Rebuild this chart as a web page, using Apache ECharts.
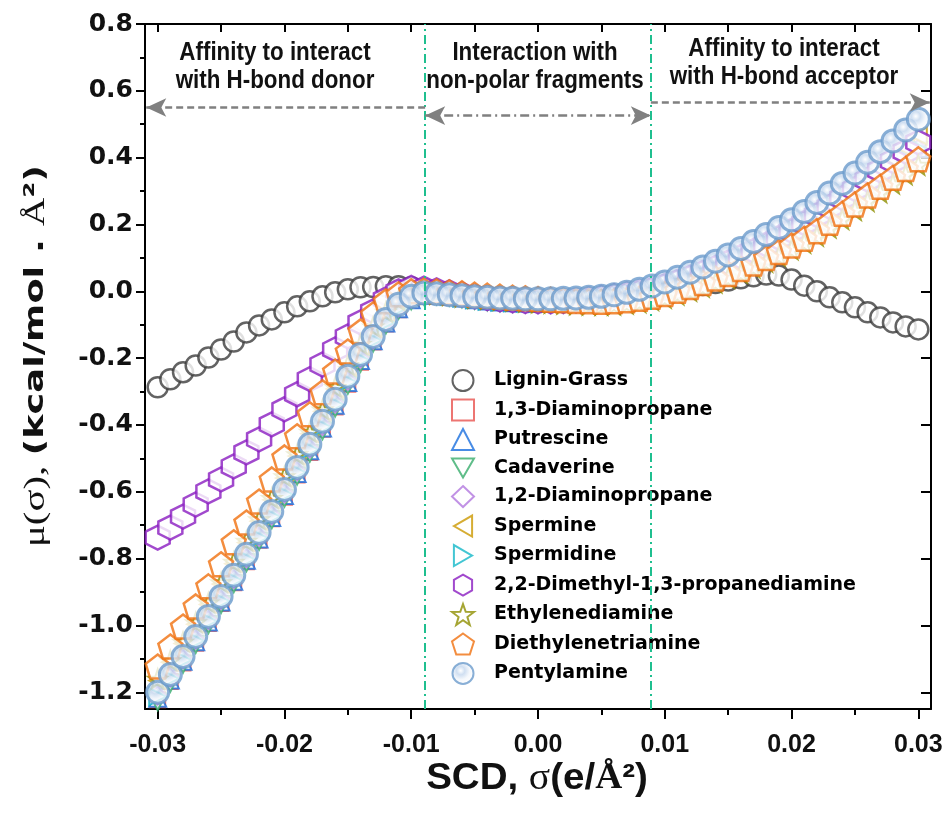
<!DOCTYPE html>
<html>
<head>
<meta charset="UTF-8">
<title>sigma potential</title>
<script src="https://cdn.jsdelivr.net/npm/echarts@6/dist/echarts.min.js"></script>
<style>
  html, body { margin: 0; padding: 0; background: #fff; }
  #main { width: 947px; height: 826px; }
</style>
</head>
<body>
<div id="main"></div>
<script>
// screening charge density, e/A^2
var sigma = [-0.030,-0.029,-0.028,-0.027,-0.026,-0.025,-0.024,-0.023,-0.022,-0.021,-0.020,
  -0.019,-0.018,-0.017,-0.016,-0.015,-0.014,-0.013,-0.012,-0.011,-0.010,
  -0.009,-0.008,-0.007,-0.006,-0.005,-0.004,-0.003,-0.002,-0.001,0.000,
  0.001,0.002,0.003,0.004,0.005,0.006,0.007,0.008,0.009,0.010,
  0.011,0.012,0.013,0.014,0.015,0.016,0.017,0.018,0.019,0.020,
  0.021,0.022,0.023,0.024,0.025,0.026,0.027,0.028,0.029,0.030];

// mu(sigma), kcal/mol.A^2
var ligninGrass = [-0.287,-0.263,-0.242,-0.222,-0.198,-0.174,-0.150,-0.123,-0.102,-0.084,-0.063,-0.045,-0.030,-0.015,-0.003,0.006,0.012,0.013,0.015,0.015,0.012,
  0.006,0.000,-0.006,-0.012,-0.017,-0.021,-0.024,-0.026,-0.027,-0.027,-0.026,-0.024,-0.022,-0.019,-0.016,-0.012,-0.008,-0.004,0.000,
  0.004,0.008,0.013,0.019,0.025,0.032,0.039,0.045,0.050,0.047,0.035,0.017,0.000,-0.018,-0.033,-0.048,-0.063,-0.078,-0.093,-0.105,-0.114];
var dap13 = [-1.222,-1.168,-1.112,-1.053,-0.994,-0.934,-0.872,-0.809,-0.745,-0.681,-0.616,-0.550,-0.482,-0.413,-0.346,-0.278,-0.212,-0.152,-0.098,-0.055,-0.027,
  -0.013,-0.012,-0.016,-0.021,-0.026,-0.030,-0.033,-0.035,-0.036,-0.037,-0.037,-0.036,-0.034,-0.031,-0.027,-0.022,-0.016,-0.009,-0.001,
  0.009,0.020,0.032,0.045,0.059,0.074,0.090,0.107,0.125,0.144,0.164,0.185,0.208,0.232,0.257,0.283,0.310,0.338,0.366,0.395,0.425];
var putrescine = [-1.218,-1.163,-1.107,-1.049,-0.990,-0.930,-0.868,-0.805,-0.741,-0.677,-0.611,-0.545,-0.477,-0.409,-0.341,-0.273,-0.207,-0.148,-0.095,-0.052,-0.025,
  -0.012,-0.011,-0.015,-0.020,-0.025,-0.029,-0.032,-0.034,-0.035,-0.036,-0.036,-0.035,-0.033,-0.030,-0.026,-0.021,-0.015,-0.008,0.000,
  0.010,0.021,0.033,0.046,0.060,0.075,0.091,0.108,0.126,0.145,0.165,0.187,0.210,0.234,0.259,0.285,0.312,0.340,0.369,0.398,0.428];
var cadaverine = [-1.228,-1.173,-1.116,-1.057,-0.998,-0.937,-0.875,-0.812,-0.748,-0.684,-0.619,-0.553,-0.485,-0.417,-0.349,-0.281,-0.215,-0.155,-0.101,-0.057,-0.028,
  -0.014,-0.013,-0.017,-0.022,-0.027,-0.031,-0.034,-0.036,-0.037,-0.038,-0.038,-0.037,-0.035,-0.032,-0.028,-0.023,-0.017,-0.010,-0.002,
  0.008,0.019,0.031,0.044,0.058,0.073,0.089,0.106,0.124,0.143,0.163,0.184,0.206,0.230,0.255,0.281,0.308,0.335,0.363,0.392,0.421];
var dap12 = [-1.210,-1.156,-1.101,-1.043,-0.984,-0.924,-0.862,-0.799,-0.735,-0.671,-0.605,-0.539,-0.471,-0.403,-0.336,-0.268,-0.202,-0.145,-0.092,-0.049,-0.022,
  -0.010,-0.010,-0.014,-0.019,-0.024,-0.028,-0.031,-0.033,-0.034,-0.035,-0.035,-0.034,-0.032,-0.029,-0.025,-0.020,-0.014,-0.007,0.001,
  0.011,0.022,0.034,0.047,0.061,0.076,0.092,0.109,0.127,0.146,0.166,0.188,0.211,0.235,0.260,0.286,0.313,0.341,0.370,0.398,0.426];
var spermine = [-1.165,-1.110,-1.054,-0.996,-0.937,-0.876,-0.815,-0.752,-0.688,-0.624,-0.559,-0.493,-0.426,-0.359,-0.292,-0.226,-0.163,-0.111,-0.066,-0.031,-0.012,
  -0.006,-0.008,-0.012,-0.017,-0.022,-0.026,-0.029,-0.031,-0.032,-0.033,-0.033,-0.032,-0.030,-0.027,-0.023,-0.018,-0.012,-0.005,0.003,
  0.013,0.024,0.036,0.050,0.065,0.081,0.098,0.116,0.135,0.155,0.176,0.199,0.223,0.248,0.274,0.302,0.331,0.361,0.394,0.428,0.465];
var spermidine = [-1.213,-1.159,-1.104,-1.046,-0.987,-0.927,-0.865,-0.802,-0.738,-0.674,-0.608,-0.542,-0.474,-0.406,-0.339,-0.271,-0.205,-0.147,-0.094,-0.051,-0.024,
  -0.011,-0.011,-0.015,-0.020,-0.025,-0.029,-0.032,-0.034,-0.035,-0.036,-0.036,-0.035,-0.033,-0.030,-0.026,-0.021,-0.015,-0.008,0.000,
  0.010,0.021,0.033,0.046,0.060,0.075,0.091,0.108,0.126,0.145,0.165,0.186,0.209,0.233,0.258,0.284,0.311,0.339,0.368,0.397,0.427];
var dimethylPropanediamine = [-0.737,-0.707,-0.674,-0.638,-0.599,-0.563,-0.524,-0.482,-0.443,-0.398,-0.353,-0.308,-0.263,-0.219,-0.174,-0.135,-0.093,-0.060,-0.024,0.000,0.010,
  0.008,0.003,-0.003,-0.009,-0.015,-0.020,-0.024,-0.027,-0.029,-0.030,-0.030,-0.029,-0.027,-0.024,-0.020,-0.015,-0.009,-0.002,0.006,
  0.016,0.028,0.041,0.055,0.070,0.086,0.103,0.121,0.140,0.160,0.181,0.204,0.228,0.253,0.279,0.306,0.334,0.362,0.390,0.418,0.446];
var ethylenediamine = [-1.160,-1.105,-1.049,-0.991,-0.932,-0.871,-0.810,-0.747,-0.683,-0.619,-0.554,-0.488,-0.421,-0.354,-0.287,-0.221,-0.158,-0.106,-0.062,-0.028,-0.010,
  -0.005,-0.008,-0.012,-0.016,-0.020,-0.023,-0.026,-0.028,-0.031,-0.033,-0.035,-0.037,-0.039,-0.040,-0.041,-0.040,-0.037,-0.033,-0.027,
  -0.020,-0.010,0.001,0.013,0.026,0.040,0.055,0.071,0.088,0.106,0.125,0.145,0.166,0.190,0.216,0.243,0.270,0.296,0.322,0.350,0.378];
var diethylenetriamine = [-1.123,-1.063,-1.003,-0.943,-0.883,-0.817,-0.751,-0.692,-0.629,-0.563,-0.497,-0.434,-0.368,-0.302,-0.240,-0.180,-0.120,-0.069,-0.030,-0.009,0.000,
  0.002,0.000,-0.003,-0.006,-0.010,-0.013,-0.016,-0.019,-0.021,-0.023,-0.025,-0.027,-0.029,-0.030,-0.031,-0.030,-0.027,-0.022,-0.016,
  -0.008,0.002,0.013,0.025,0.038,0.052,0.067,0.083,0.100,0.118,0.137,0.157,0.180,0.205,0.232,0.260,0.287,0.313,0.340,0.366,0.395];
var pentylamine = [-1.200,-1.147,-1.093,-1.033,-0.973,-0.913,-0.850,-0.787,-0.722,-0.659,-0.593,-0.527,-0.458,-0.389,-0.323,-0.254,-0.189,-0.135,-0.084,-0.039,-0.015,
  -0.005,-0.007,-0.010,-0.013,-0.016,-0.018,-0.020,-0.021,-0.022,-0.022,-0.022,-0.021,-0.020,-0.018,-0.015,-0.010,-0.003,0.006,0.016,
  0.028,0.042,0.057,0.073,0.090,0.109,0.128,0.149,0.170,0.191,0.214,0.239,0.266,0.294,0.323,0.354,0.386,0.418,0.450,0.483,0.515];

// axis ticks
var xMajor = [-0.03, -0.02, -0.01, 0.00, 0.01, 0.02, 0.03];
var xMinor = [-0.025, -0.015, -0.005, 0.005, 0.015, 0.025];
var yMajor = [-1.2, -1.0, -0.8, -0.6, -0.4, -0.2, 0.0, 0.2, 0.4, 0.6, 0.8];
var yMinor = [-1.1, -0.9, -0.7, -0.5, -0.3, -0.1, 0.1, 0.3, 0.5, 0.7];

// region borders and arrows
var regionBounds = [-0.0089, 0.0089];
var arrowY = { donor: 0.550, nonpolar: 0.526, acceptor: 0.565 };

var HEX = 'path://M0,-10 L8.66,-5 L8.66,5 L0,10 L-8.66,5 L-8.66,-5 Z';
var PENT = 'path://M0,-10 L9.51,-3.09 L5.88,8.09 L-5.88,8.09 L-9.51,-3.09 Z';
var STAR = 'path://M0,-10 L2.35,-3.24 L9.51,-3.09 L3.8,1.24 L5.88,8.09 L0,4 L-5.88,8.09 L-3.8,1.24 L-9.51,-3.09 L-2.35,-3.24 Z';
var TRI_DOWN = 'path://M-10,-8.66 L10,-8.66 L0,8.66 Z';
var TRI_LEFT = 'path://M-8.66,0 L8.66,-10 L8.66,10 Z';
var TRI_RIGHT = 'path://M8.66,0 L-8.66,-10 L-8.66,10 Z';

var sans = '"Liberation Sans", Arial, sans-serif';
var wide = '"DejaVu Sans", sans-serif';
var serif = '"Liberation Serif", serif';

function pairs(ys) {
  return sigma.map(function (x, i) { return [x, ys[i]]; });
}

function mk(name, ys, symbol, color, size, bw) {
  return {
    name: name,
    type: 'scatter',
    data: pairs(ys),
    symbol: symbol,
    symbolSize: size,
    itemStyle: { color: '#fff', borderColor: color, borderWidth: bw || 2 },
    emphasis: { disabled: true }
  };
}

var chart = echarts.init(document.getElementById('main'));

var series = [
  mk('Lignin-Grass', ligninGrass, 'circle', '#3c3c3c', 20, 2.5),
  mk('1,3-Diaminopropane', dap13, 'rect', '#e8534f', 15),
  mk('Putrescine', putrescine, 'triangle', '#1a6fdf', 17),
  mk('Cadaverine', cadaverine, TRI_DOWN, '#37ad6b', 17),
  mk('1,2-Diaminopropane', dap12, 'diamond', '#b177de', 18),
  mk('Spermine', spermine, TRI_LEFT, '#cc9900', 17),
  mk('Spermidine', spermidine, TRI_RIGHT, '#14b8c8', 17),
  mk('2,2-Dimethyl-1,3-propanediamine', dimethylPropanediamine, HEX, '#8a1cc0', 24, 2.5),
  mk('Ethylenediamine', ethylenediamine, STAR, '#8e8e00', 19),
  mk('Diethylenetriamine', diethylenetriamine, PENT, '#f0700f', 24, 2.5),
  mk('Pentylamine', pentylamine, 'circle', '#6b9bcc', 22, 3)
];
series[10].itemStyle.color = {
  type: 'radial', x: 0.4, y: 0.38, r: 0.6,
  colorStops: [
    { offset: 0, color: '#ffffff' },
    { offset: 0.3, color: '#c4d7ee' },
    { offset: 0.65, color: '#f2f6fb' },
    { offset: 1, color: '#ffffff' }
  ]
};

// guide lines + arrows
var greenDash = { color: '#1fbf8f', width: 2, type: [9, 4, 2, 4] };
var greyDash = { color: '#808080', width: 2.5, type: [7, 4] };
var greyDashDot = { color: '#808080', width: 2.5, type: [9, 4, 2, 4] };
series.push({
  name: 'guides',
  type: 'scatter',
  data: [],
  silent: true,
  markLine: {
    silent: true,
    animation: false,
    label: { show: false },
    data: [
      [{ coord: [regionBounds[0], -1.25], symbol: 'none', lineStyle: greenDash },
       { coord: [regionBounds[0], 0.8], symbol: 'none' }],
      [{ coord: [regionBounds[1], -1.25], symbol: 'none', lineStyle: greenDash },
       { coord: [regionBounds[1], 0.8], symbol: 'none' }],
      [{ coord: [regionBounds[0], arrowY.donor], symbol: 'none', lineStyle: greyDash },
       { coord: [-0.0309, arrowY.donor], symbol: 'arrow', symbolSize: [14, 20] }],
      [{ coord: [regionBounds[0], arrowY.nonpolar], symbol: 'arrow', symbolSize: [14, 20], lineStyle: greyDashDot },
       { coord: [regionBounds[1], arrowY.nonpolar], symbol: 'arrow', symbolSize: [14, 20] }],
      [{ coord: [regionBounds[1], arrowY.acceptor], symbol: 'none', lineStyle: greyDash },
       { coord: [0.0309, arrowY.acceptor], symbol: 'arrow', symbolSize: [14, 20] }]
    ]
  }
});

var tickStyle = { color: '#000', width: 2 };
var frame = { onZero: false, lineStyle: { color: '#000', width: 2 } };
var noLine = { show: false, onZero: false };

var option = {
  animation: false,
  backgroundColor: '#fff',
  grid: { left: 145, right: 16, top: 24, bottom: 117, containLabel: false, outerBoundsMode: 'none' },
  legend: {
    data: series.slice(0, 11).map(function (s) { return s.name; }),
    orient: 'vertical',
    left: 446,
    top: 364,
    itemWidth: 22,
    itemHeight: 21,
    itemGap: 6.5,
    selectedMode: false,
    textStyle: {
      fontFamily: wide, fontWeight: 'bold', fontSize: 19, color: '#000',
      padding: [0, 0, 0, 15]
    }
  },
  xAxis: [
    {
      type: 'value', position: 'bottom', min: -0.031, max: 0.031,
      axisLine: frame,
      axisTick: { inside: false, length: 10, lineStyle: tickStyle, customValues: xMajor },
      axisLabel: {
        customValues: xMajor, margin: 24, color: '#111',
        fontFamily: sans, fontWeight: 'bold', fontSize: 25,
        formatter: function (v) { return v.toFixed(2); }
      },
      splitLine: { show: false }
    },
    {
      type: 'value', position: 'bottom', min: -0.031, max: 0.031,
      axisLine: noLine,
      axisTick: { inside: false, length: 6, lineStyle: tickStyle, customValues: xMinor },
      axisLabel: { show: false }, splitLine: { show: false }
    },
    {
      type: 'value', position: 'top', min: -0.031, max: 0.031,
      axisLine: frame,
      axisTick: { inside: true, length: 8, lineStyle: tickStyle, customValues: xMajor.concat(xMinor) },
      axisLabel: { show: false }, splitLine: { show: false }
    }
  ],
  yAxis: [
    {
      type: 'value', position: 'left', min: -1.25, max: 0.8,
      axisLine: frame,
      axisTick: { inside: false, length: 9, lineStyle: tickStyle, customValues: yMajor },
      axisLabel: {
        customValues: yMajor, margin: 12, color: '#111',
        fontFamily: wide, fontWeight: 'bold', fontSize: 25,
        formatter: function (v) { return v.toFixed(1); }
      },
      splitLine: { show: false }
    },
    {
      type: 'value', position: 'left', min: -1.25, max: 0.8,
      axisLine: noLine,
      axisTick: { inside: false, length: 5, lineStyle: tickStyle, customValues: yMinor },
      axisLabel: { show: false }, splitLine: { show: false }
    },
    {
      type: 'value', position: 'right', min: -1.25, max: 0.8,
      axisLine: frame,
      axisTick: { inside: true, length: 10, lineStyle: tickStyle, customValues: yMajor },
      axisLabel: { show: false }, splitLine: { show: false }
    }
  ],
  series: series,
  graphic: [
    {
      type: 'text', x: 275, y: 67, scaleX: 0.86,
      style: {
        text: 'Affinity to interact\nwith H-bond donor', align: 'center', verticalAlign: 'middle',
        fontFamily: sans, fontWeight: 'bold', fontSize: 26, lineHeight: 28, fill: '#111'
      }
    },
    {
      type: 'text', x: 535, y: 67, scaleX: 0.86,
      style: {
        text: 'Interaction with\nnon-polar fragments', align: 'center', verticalAlign: 'middle',
        fontFamily: sans, fontWeight: 'bold', fontSize: 26, lineHeight: 28, fill: '#111'
      }
    },
    {
      type: 'text', x: 784, y: 63, scaleX: 0.86,
      style: {
        text: 'Affinity to interact\nwith H-bond acceptor', align: 'center', verticalAlign: 'middle',
        fontFamily: sans, fontWeight: 'bold', fontSize: 26, lineHeight: 28, fill: '#111'
      }
    },
    {
      type: 'text', x: 537, y: 779, scaleX: 1.07,
      style: {
        text: '{b|SCD, }{s|σ}{b|(e/}{a|Å}{b|²)}', align: 'center', verticalAlign: 'middle',
        rich: {
          b: { fontFamily: sans, fontWeight: 'bold', fontSize: 36, fill: '#111' },
          s: { fontFamily: serif, fontSize: 37, fill: '#111' },
          a: { fontFamily: serif, fontWeight: 'bold', fontSize: 35, fill: '#111' }
        }
      }
    },
    {
      type: 'text', x: 36, y: 356, rotation: Math.PI / 2, scaleX: 1.36,
      style: {
        text: '{s|μ(σ), }{b|(kcal/mol . }{a|Å}{b|²)}', align: 'center', verticalAlign: 'middle',
        rich: {
          b: { fontFamily: wide, fontWeight: 'bold', fontSize: 27, fill: '#111' },
          s: { fontFamily: serif, fontSize: 30, fill: '#111' },
          a: { fontFamily: serif, fontSize: 29, fill: '#111' }
        }
      }
    }
  ]
};

chart.setOption(option);
</script>
</body>
</html>
